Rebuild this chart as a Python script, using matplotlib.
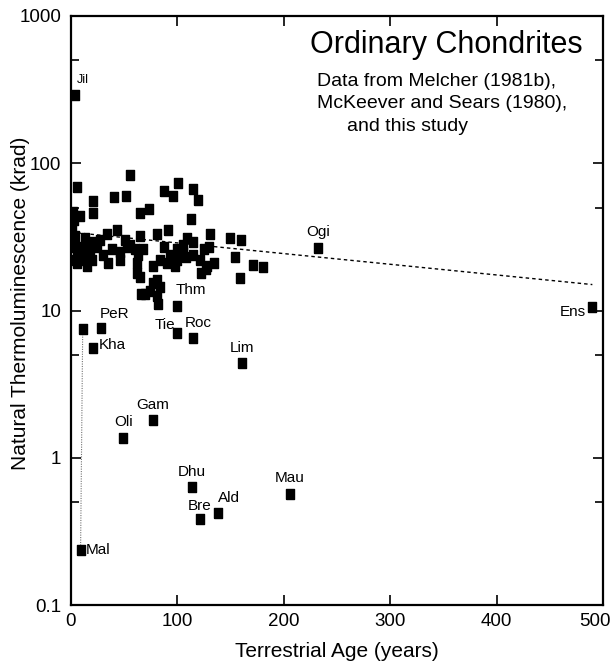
import matplotlib
matplotlib.use("Agg")
import matplotlib.pyplot as plt
import matplotlib.transforms as mtransforms
import numpy as np

# ---------------- data ----------------
# unlabelled meteorites (terrestrial age in years, natural TL in krad)
cluster_age = [55, 6, 21, 21, 40, 52, 65, 73, 87, 96, 101, 115, 119, 113, 2, 3, 8, 1, 0,
               13, 21, 34, 43, 51, 55, 65, 81, 91, 109, 115, 131, 149, 160, 105, 4, 8, 27, 60,
               6, 11, 18, 24, 30, 39, 46, 53, 63, 68, 87, 93, 100, 105, 115, 125, 130, 2, 15,
               6, 10, 35, 46, 62, 90, 98, 121, 128, 134, 154, 171, 180, 15, 3, 20, 100, 108, 95, 84,
               62, 65, 77, 84, 70, 74, 66, 81, 82, 81, 122, 127, 159, 77, 11]
cluster_tl = [83, 69, 55, 46, 59, 60, 46, 49, 65, 60, 73, 67, 56, 42, 47, 41, 44, 36, 30,
              31, 29, 33, 35, 30, 28, 32, 33, 35, 31, 29, 33, 31, 30, 28, 32, 27, 30, 26,
              25, 24, 26, 27, 24, 26, 25, 27, 24, 26, 27, 24, 26, 25, 24, 26, 27, 27, 28,
              21, 22, 21, 22, 21, 21, 20, 22, 20, 21, 23, 20.4, 19.7, 20, 22, 22, 22, 23, 23, 22,
              18, 17, 15.4, 14.5, 13, 13.5, 13, 12.5, 11, 16, 18, 19, 16.6, 20, 7.5]

# labelled meteorites
names = ["Jil", "Mal", "PeR", "Kha", "Thm", "Tie", "Roc", "Lim", "Oli", "Gam",
         "Dhu", "Bre", "Ald", "Mau", "Ogi", "Ens"]
named_age = [4, 9, 28, 21, 100, 100, 115, 161, 49, 77, 114, 121, 138, 206, 232, 490]
named_tl = [290, 0.235, 7.6, 5.6, 10.7, 7.0, 6.5, 4.4, 1.36, 1.8, 0.63, 0.385, 0.42, 0.57, 26.5, 10.6]

# Mal paired measurement (dotted connector)
pair_age = [9, 11]
pair_tl = [0.235, 7.5]

# trend line (exponential decay)
trend_age = [0, 490]
trend_tl = [34, 15]

# ---------------- fonts ----------------
plt.rcParams['font.family'] = ['Liberation Sans', 'DejaVu Sans']

fig = plt.figure(figsize=(6.13, 6.66), dpi=100)
ax = fig.add_axes([71/613, 1-605/666, 532/613, 589/666])

# marker: slightly tall rectangle
rect = [(-0.38, -0.5), (0.38, -0.5), (0.38, 0.5), (-0.38, 0.5), (-0.38, -0.5)]

ax.plot(pair_age, pair_tl, linestyle=(0, (1, 1.2)), color='0.45', lw=0.8, zorder=1)
ax.plot(trend_age, trend_tl, linestyle=(0, (2.5, 2.2)), color='black', lw=1.0, zorder=1)

ax.plot(cluster_age, cluster_tl, linestyle='none', marker=rect, markersize=7.3,
        color='black', zorder=3)
ax.plot(named_age, named_tl, linestyle='none', marker=rect, markersize=7.3,
        color='black', zorder=3)

# label placements (offset points, alignment, size)
offsets = {
    "Jil": ((1, 11), 'left', 9),
    "Mal": ((4, 0.5), 'left', 11),
    "PeR": ((-1, 10), 'left', 11),
    "Kha": ((4, 2), 'left', 11),
    "Thm": ((-1.5, 11.5), 'left', 11),
    "Tie": ((-1.5, 6), 'right', 11),
    "Roc": ((3.5, 11), 'center', 11),
    "Lim": ((0, 11), 'center', 11),
    "Oli": ((0, 11.5), 'center', 11),
    "Gam": ((0, 11), 'center', 11),
    "Dhu": ((0, 11), 'center', 11),
    "Bre": ((0, 9.5), 'center', 11),
    "Ald": ((8, 11), 'center', 11),
    "Mau": ((0, 11.5), 'center', 11),
    "Ogi": ((0, 11.5), 'center', 11),
    "Ens": ((-5, -3.5), 'right', 11),
}
for n, a, t in zip(names, named_age, named_tl):
    off, ha, fs = offsets[n]
    ax.annotate(n, (a, t), xytext=off, textcoords='offset points', ha=ha, va='center',
                fontsize=fs, color='black')

ax.set_yscale('log')
ax.set_xlim(0, 500)
ax.set_ylim(0.1, 1000)
ax.set_xticks([0, 100, 200, 300, 400, 500])
ax.set_yticks([0.1, 1, 10, 100, 1000])
ax.set_yticklabels(["0.1", "1", "10", "100", "1000"])
ax.set_yticks([0.5, 5, 50, 500], minor=True)
ax.yaxis.set_minor_formatter(matplotlib.ticker.NullFormatter())
ax.tick_params(which='both', direction='in', top=True, right=True, width=1.2, labelsize=13.5)
ax.tick_params(which='major', length=7)
ax.tick_params(which='minor', length=6)
ax.tick_params(axis='y', pad=7)
ax.tick_params(axis='x', pad=6)
for s in ax.spines.values():
    s.set_linewidth(1.6)

# nudge the last x tick label inside the canvas
fig.canvas.draw()
last = ax.get_xticklabels()[-1]
last.set_transform(last.get_transform() + mtransforms.ScaledTranslation(-8/100, 0, fig.dpi_scale_trans))

ax.set_xlabel("Terrestrial Age (years)", fontsize=15)
ax.xaxis.set_label_coords(0.5, -0.062)
ax.set_ylabel("Natural Thermoluminescence (krad)", fontsize=15)
ax.yaxis.label.set_va('center')
ax.yaxis.set_label_coords(-0.094, 0.513)

ax.text(0.962, 0.951, "Ordinary Chondrites", transform=ax.transAxes, ha='right',
        va='center', fontsize=22)
ax.text(0.462, 0.888, "Data from Melcher (1981b),", transform=ax.transAxes, ha='left',
        va='center', fontsize=14)
ax.text(0.462, 0.851, "McKeever and Sears (1980),", transform=ax.transAxes, ha='left',
        va='center', fontsize=14)
ax.text(0.519, 0.812, "and this study", transform=ax.transAxes, ha='left',
        va='center', fontsize=14)

fig.savefig("out.png", dpi=100)
